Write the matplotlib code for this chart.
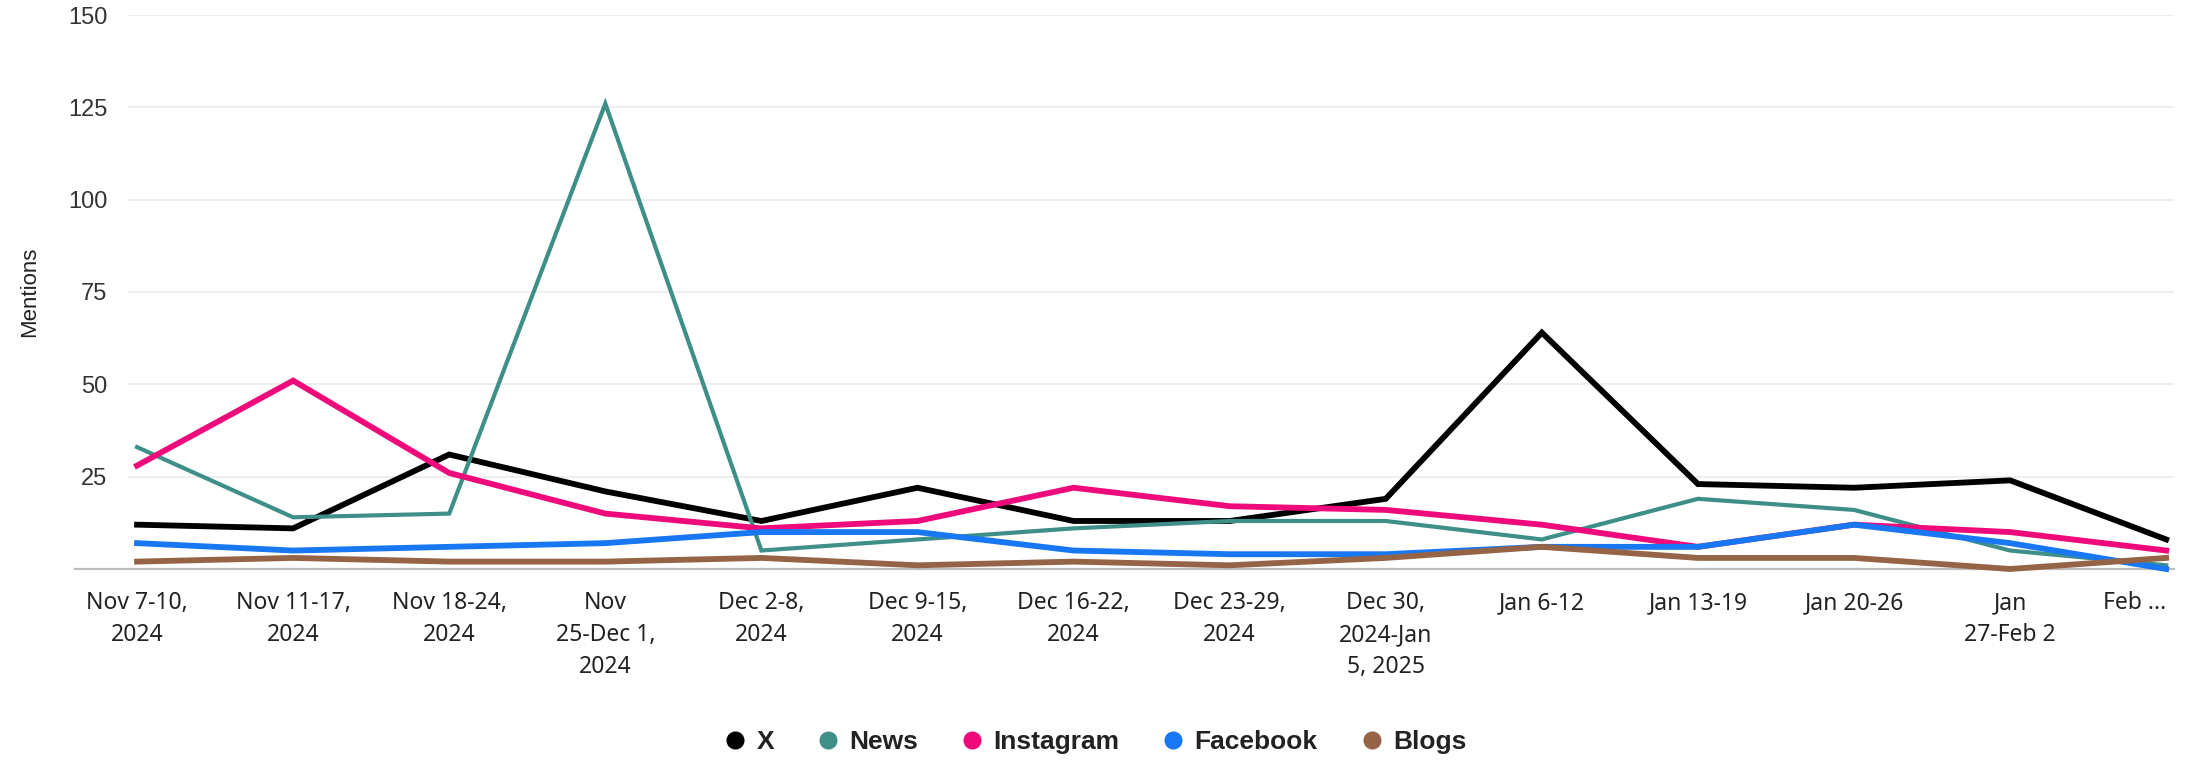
import matplotlib.pyplot as plt
from matplotlib.lines import Line2D

# weekly mention counts per source
weeks = [
    "Nov 7-10,\n2024", "Nov 11-17,\n2024", "Nov 18-24,\n2024",
    "Nov\n25-Dec 1,\n2024", "Dec 2-8,\n2024", "Dec 9-15,\n2024",
    "Dec 16-22,\n2024", "Dec 23-29,\n2024", "Dec 30,\n2024-Jan\n5, 2025",
    "Jan 6-12", "Jan 13-19", "Jan 20-26", "Jan\n27-Feb 2", "Feb ...",
]
x_mentions = [12, 11, 31, 21, 13, 22, 13, 13, 19, 64, 23, 22, 24, 8]
news_mentions = [33, 14, 15, 126, 5, 8, 11, 13, 13, 8, 19, 16, 5, 1]
instagram_mentions = [28, 51, 26, 15, 11, 13, 22, 17, 16, 12, 6, 12, 10, 5]
facebook_mentions = [7, 5, 6, 7, 10, 10, 5, 4, 4, 6, 6, 12, 7, 0]
blogs_mentions = [2, 3, 2, 2, 3, 1, 2, 1, 3, 6, 3, 3, 0, 3]

series = [
    ("X", x_mentions, "#000000", 4.2),
    ("News", news_mentions, "#3e8f88", 3.0),
    ("Instagram", instagram_mentions, "#ee0a7b", 4.2),
    ("Facebook", facebook_mentions, "#1877f2", 4.2),
    ("Blogs", blogs_mentions, "#956446", 4.2),
]

W, H = 2191, 760
fig = plt.figure(figsize=(W / 100, H / 100), dpi=100)
ax_left, ax_right, ax_top, ax_bottom = 128, 2174, 15, 569
ax = fig.add_axes([ax_left / W, 1 - ax_bottom / H,
                   (ax_right - ax_left) / W, (ax_bottom - ax_top) / H])

xs = list(range(len(weeks)))
for name, vals, color, lw in series:
    ax.plot(xs, vals, color=color, lw=lw, solid_joinstyle="miter",
            clip_on=False, zorder=3)

ax.set_ylim(0, 150)
ax.set_xlim(-0.058, 13.05)
ax.set_yticks([0, 25, 50, 75, 100, 125, 150])
ax.set_yticklabels(["", "25", "50", "75", "100", "125", "150"],
                   fontfamily="Liberation Sans", fontsize=17, color="#333333")
ax.set_xticks(xs)
ax.set_xticklabels(weeks, fontfamily="Noto Sans", fontsize=16.5, color="#222222",
                   linespacing=1.45, va="top")
ax.tick_params(axis="both", length=0)
ax.tick_params(axis="y", pad=15)
ax.tick_params(axis="x", pad=16)
labels = ax.get_xticklabels()
labels[-1].set_horizontalalignment("right")

for s in ax.spines.values():
    s.set_visible(False)
for v in [25, 50, 75, 100, 125, 150]:
    ax.axhline(v, color="#ebebeb", lw=1.2, zorder=1)
# baseline runs a bit further left than the grid
ax.axhline(0, xmin=-(ax_left - 75) / (ax_right - ax_left), xmax=1,
           color="#bdbdbd", lw=1.6, clip_on=False, zorder=2)

fig.text(30 / W, 1 - 292 / H, "Mentions", rotation=90, ha="center", va="center",
         fontfamily="Liberation Sans", fontsize=16, color="#222222")

handles = [Line2D([], [], ls="none", marker="o", markersize=12,
                  markerfacecolor=c, markeredgecolor=c)
           for _, _, c, _ in series]
leg = fig.legend(handles, [s[0] for s in series], loc="center",
                 bbox_to_anchor=(0.5, 1 - 742 / H), ncol=5, frameon=False,
                 handlelength=0.8, handletextpad=0.4, columnspacing=1.65,
                 prop={"family": "Liberation Sans", "weight": "bold", "size": 19})
for t in leg.get_texts():
    t.set_color("#222222")

fig.savefig("out.png", dpi=100)
